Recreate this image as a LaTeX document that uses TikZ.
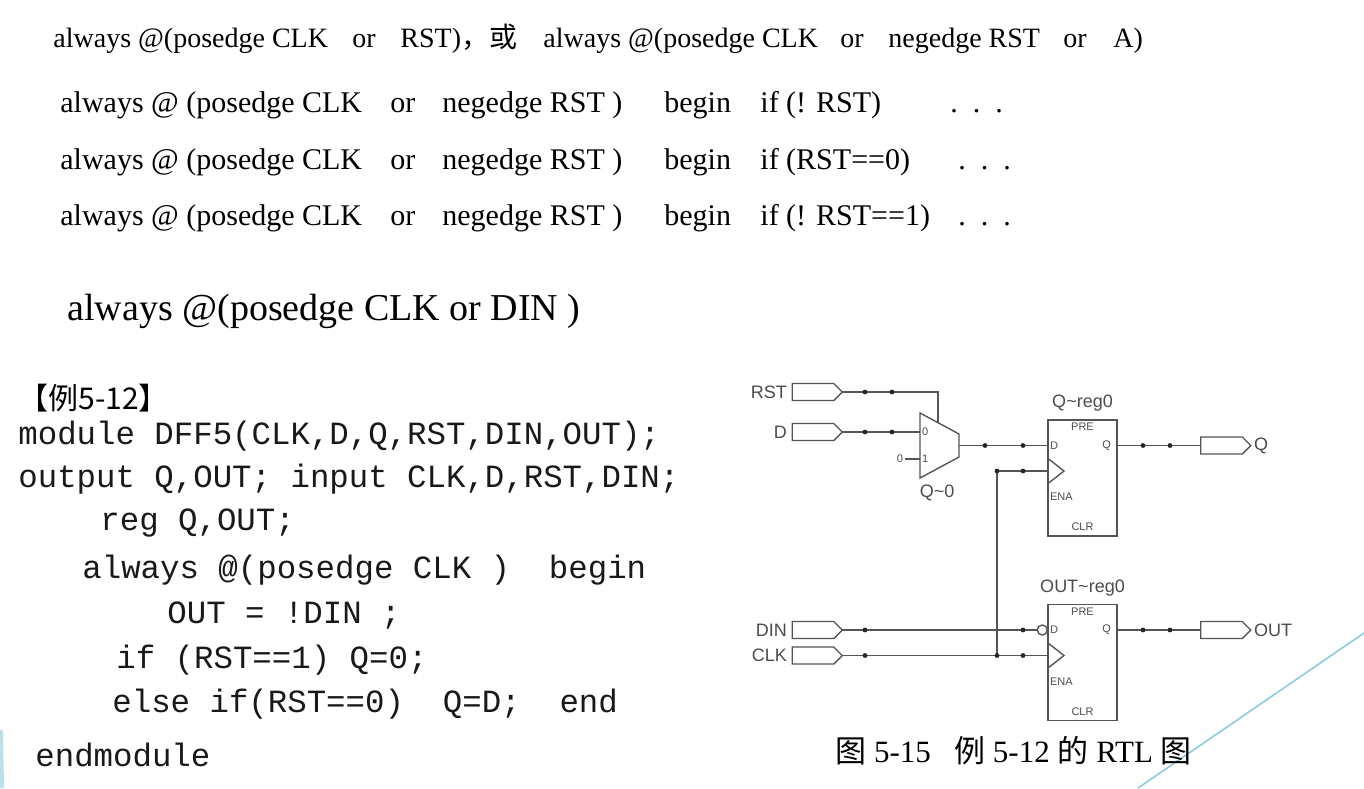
\documentclass[tikz,border=0pt]{standalone}
\usepackage{fontspec}
\setmainfont{Liberation Serif}
\newfontfamily\cjk{Noto Sans CJK SC}
\newfontfamily\rtlsans{Liberation Sans}
\newfontfamily\codemono{Liberation Mono}
\usetikzlibrary{positioning,shapes.symbols}
\definecolor{wiregray}{HTML}{555555}
\definecolor{deco}{HTML}{8CCBE0}
\tikzset{
  wire/.style={draw=wiregray, line width=0.7pt},
  port/.style={signal, signal to=east, draw=wiregray, line width=0.7pt, minimum width=25pt, minimum height=8.5pt, inner sep=0pt, outer sep=0pt},
  ffbox/.style={rectangle, draw=wiregray, line width=0.7pt, minimum width=34.5pt, minimum height=58pt, inner sep=0pt, outer sep=0pt},
  dot/.style={circle, fill=black!85, inner sep=0pt, minimum size=2.4pt},
  bubble/.style={circle, draw=wiregray, line width=0.7pt, inner sep=0pt, minimum size=5pt},
  sig/.style={font=\rtlsans\fontsize{9}{9}\selectfont, text=black!70, inner sep=1pt},
  pinlbl/.style={font=\rtlsans\fontsize{5.5}{5.5}\selectfont, text=black!70, inner sep=0.8pt},
  txt/.style={anchor=base west, inner sep=0pt, font=\fontsize{14}{14}\selectfont, text=black},
  mid/.style={txt, font=\fontsize{15}{15}\selectfont},
  big/.style={txt, font=\fontsize{19}{19}\selectfont},
  code/.style={anchor=base west, inner sep=0pt, font=\codemono\fontsize{16.2}{16.2}\selectfont, text=black!90}
}
\begin{document}
\begin{tikzpicture}[x=0.5pt,y=-0.5pt]
\useasboundingbox[fill=white] (0,0) rectangle (1364,788);
\draw[deco, line width=0.8pt] (1364,633) -- (1138,788);
\draw[deco!60, line width=2pt] (1,730) -- (2,788);

% sensitivity lists
\node[txt] at (53,47) {always @(posedge CLK};
\node[txt] at (352,47) {or};
\node[txt] at (400,47) {RST){\cjk ，或}};
\node[txt] at (543,47) {always @(posedge CLK};
\node[txt] at (840,47) {or};
\node[txt] at (888,47) {negedge RST};
\node[txt] at (1063,47) {or};
\node[txt] at (1113,47) {A)};
\foreach \yy/\cond/\dx in {112/{if (! RST)}/950, 169/{if (RST==0)}/958, 225/{if (! RST==1)}/958}{
  \node[mid] at (60,\yy) {always @ (posedge CLK};
  \node[mid] at (390,\yy) {or};
  \node[mid] at (442,\yy) {negedge RST )};
  \node[mid] at (664,\yy) {begin};
  \node[mid] at (760,\yy) {\cond};
  \node[mid] at (\dx,\yy) {.\ \ .\ \ .};
}
\node[big] at (67,320) {always @(posedge CLK or DIN )};

% example code
\node[txt, font=\cjk\fontsize{15}{15}\selectfont] at (18,409) {【例5-12】};
\node[code] at (18,444) {module DFF5(CLK,D,Q,RST,DIN,OUT);};
\node[code] at (18,487) {output Q,OUT; input CLK,D,RST,DIN;};
\node[code] at (100,530) {reg Q,OUT;};
\node[code] at (82,578) {always @(posedge CLK )~~begin};
\node[code] at (167,623) {OUT = !DIN ;};
\node[code] at (116,668) {if (RST==1) Q=0;};
\node[code] at (112,712) {else if(RST==0)~~Q=D;~~end};
\node[code] at (35,766) {endmodule};
\node[txt, font=\fontsize{15.5}{15.5}\selectfont] at (835,762) {{\cjk 图} 5-15 \ \ {\cjk 例} 5-12 {\cjk 的} RTL {\cjk 图}};

% RTL: ports
\node[port] (rst) at (813,392) {};
\node[port] (d) at (813,432) {};
\node[port] (din) at (813,630) {};
\node[port] (clk) at (813,655.5) {};
\node[sig, left=1.5pt of rst] {RST};
\node[sig, left=1.5pt of d] {D};
\node[sig, left=1.5pt of din] {DIN};
\node[sig, left=1.5pt of clk] {CLK};

% mux
\coordinate (mux-in) at (920,445.5);
\coordinate (mux-out) at (959,445.5);
\coordinate (mux-sel) at (938,422.5);
\draw[wire] (920,413) -- (959,434) -- (959,457) -- (920,478) -- cycle;
\node[pinlbl] (zero) at (900,459) {0};
\node[pinlbl, anchor=west] at (mux-in |- d) {0};
\node[pinlbl, anchor=west] at (zero -| mux-in) {1};
\node[sig] at (937,493) {Q\textasciitilde 0};

% registers
\node[ffbox] (qreg) at (1082.5,478) {};
\node[ffbox] (oreg) at (1082.5,662.5) {};
\node[sig, above=3pt of qreg] {Q\textasciitilde reg0};
\node[sig, above=3pt of oreg] {OUT\textasciitilde reg0};
\foreach \ff in {qreg,oreg}{
  \coordinate (\ff-d) at ([yshift=-12.75pt]\ff.north west);
  \coordinate (\ff-c) at ([yshift=-25.5pt]\ff.north west);
  \coordinate (\ff-q) at ([yshift=-12.75pt]\ff.north east);
  \node[pinlbl, below=0.5pt of \ff.north] {PRE};
  \node[pinlbl, anchor=west] at (\ff-d) {D};
  \node[pinlbl, anchor=east] at ([xshift=-2pt]\ff-q) {Q};
  \node[pinlbl, anchor=west] at ([yshift=-38.5pt]\ff.north west) {ENA};
  \node[pinlbl, above=1.5pt of \ff.south] {CLR};
  \draw[wire] ([yshift=6.25pt]\ff-c) -- ([xshift=8pt]\ff-c) -- ([yshift=-6.25pt]\ff-c);
}
\node[bubble, anchor=east] (inv) at (oreg-d) {};

% outputs
\node[port] (qo) at (1221.5,445.5) {};
\node[port] (oo) at (1221.5,630) {};
\node[sig, right=0.5pt of qo] {Q};
\node[sig, right=0.5pt of oo] {OUT};

% wires
\draw[wire] (rst) -- (rst -| mux-sel) -- (mux-sel);
\draw[wire] (d) -- (d -| mux-in);
\draw[wire] (zero) -- (zero -| mux-in);
\draw[wire] (mux-out) -- (qreg-d);
\draw[wire] (din) -- (inv);
\draw[wire] (clk) -- (oreg-c);
\coordinate (tap) at (997,655.5);
\draw[wire] (tap) |- (qreg-c);
\draw[wire] (qreg-q) -- (qo);
\draw[wire] (oreg-q) -- (oo);

% junction dots
\foreach \y in {392,432,630,655.5} \node[dot] at (865,\y) {};
\foreach \y in {392,432} \node[dot] at (892,\y) {};
\node[dot] at (985,445.5) {};
\node[dot] at (1023,445.5) {};
\node[dot] at (997,471) {};
\node[dot] at (1023,471) {};
\node[dot] at (tap) {};
\node[dot] at (1023,630) {};
\node[dot] at (1023,655.5) {};
\foreach \y in {445.5,630}{
  \node[dot] at (1143,\y) {};
  \node[dot] at (1170,\y) {};
}
\end{tikzpicture}
\end{document}
